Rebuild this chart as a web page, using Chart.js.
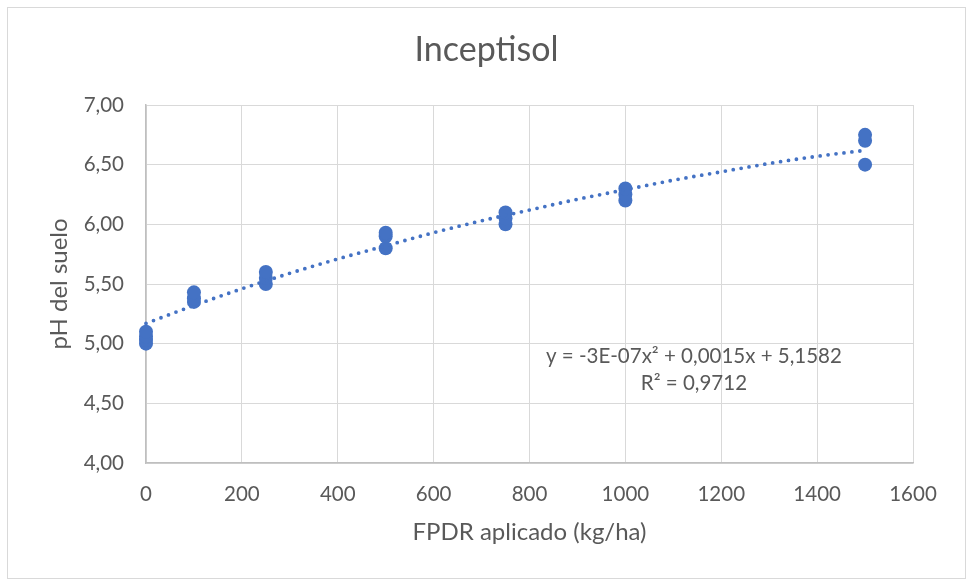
<!DOCTYPE html>
<html>
  <head>
    <title>Inceptisol - pH</title>
    <script src="https://cdn.jsdelivr.net/npm/chart.js@4.4.1/dist/chart.umd.min.js"></script>
    <style>
      body { margin: 0; background: #fff; }
      .wrap { position: relative; width: 967px; height: 582px; }
      .frame {
        position: absolute; left: 7px; top: 7px; width: 957px; height: 570px;
        border: 1px solid #d9d9d9; pointer-events: none;
      }
    </style>
  </head>
  <body>
    <div class="wrap">
      <canvas id="canvas" width="967" height="582"></canvas>
      <div class="frame"></div>
    </div>
    <script>
      // measured points (dose kg/ha -> soil pH)
      var doses = [0, 0, 0, 0, 100, 100, 100, 250, 250, 250, 500, 500, 500, 750, 750, 750, 1000, 1000, 1000, 1500, 1500, 1500];
      var phValues = [5.00, 5.03, 5.06, 5.10, 5.35, 5.38, 5.43, 5.50, 5.55, 5.60, 5.80, 5.90, 5.93, 6.00, 6.05, 6.10, 6.20, 6.25, 6.30, 6.50, 6.70, 6.75];

      // polynomial trendline
      var trendX = [0, 100, 200, 300, 400, 500, 600, 700, 800, 900, 1000, 1100, 1200, 1300, 1400, 1500];
      var trendY = [5.17, 5.32, 5.46, 5.59, 5.71, 5.82, 5.93, 6.03, 6.12, 6.21, 6.29, 6.37, 6.44, 6.51, 6.57, 6.62];

      var chartTitle = 'Inceptisol';
      var equationText = ['y = -3E-07x\u00B2 + 0,0015x + 5,1582', 'R\u00B2 = 0,9712'];

      var blue = '#4472C4';
      var textGray = '#595959';
      var font = 'Lato';

      // title is centred on the whole frame, not on the plot box
      var titlePlugin = {
        id: 'frameTitle',
        afterDraw: function(chart) {
          var ctx = chart.ctx;
          ctx.save();
          ctx.font = '34px ' + font;
          ctx.fillStyle = textGray;
          ctx.textAlign = 'center';
          ctx.textBaseline = 'middle';
          ctx.fillText(chartTitle, chart.width / 2 + 3, 50);
          ctx.restore();
        }
      };

      var eqPlugin = {
        id: 'equation',
        afterDatasetsDraw: function(chart) {
          var ctx = chart.ctx;
          var xs = chart.scales.x, ys = chart.scales.y;
          ctx.save();
          ctx.font = '20.5px ' + font;
          ctx.fillStyle = textGray;
          ctx.textAlign = 'center';
          ctx.textBaseline = 'middle';
          var cx = xs.getPixelForValue(1143);
          ctx.fillText(equationText[0], cx, ys.getPixelForValue(4.895));
          ctx.fillText(equationText[1], cx, ys.getPixelForValue(4.67));
          ctx.restore();
        }
      };

      var config = {
        type: 'scatter',
        data: {
          datasets: [{
            label: 'pH',
            data: doses.map(function(d, i) { return { x: d, y: phValues[i] }; }),
            backgroundColor: blue,
            borderColor: blue,
            pointRadius: 7,
            pointBorderWidth: 0,
            clip: false,
            order: 2
          }, {
            label: 'Polin\u00F3mica',
            type: 'line',
            data: trendX.map(function(d, i) { return { x: d, y: trendY[i] }; }),
            borderColor: blue,
            borderWidth: 3.8,
            borderDash: [0, 8],
            borderCapStyle: 'round',
            pointRadius: 0,
            cubicInterpolationMode: 'monotone',
            fill: false,
            clip: false,
            order: 1
          }]
        },
        options: {
          responsive: false,
          animation: false,
          layout: { padding: { left: 0, right: 54, top: 105, bottom: 0 } },
          plugins: {
            legend: { display: false },
            tooltip: { enabled: false },
            title: { display: false }
          },
          scales: {
            x: {
              type: 'linear',
              min: 0,
              max: 1600,
              ticks: {
                stepSize: 200,
                color: textGray,
                padding: 19,
                font: { family: font, size: 20.5 },
                callback: function(v) { return String(v); }
              },
              grid: { color: '#d9d9d9', drawTicks: false },
              border: { color: '#bfbfbf', width: 1.5 },
              title: {
                display: true,
                text: 'FPDR aplicado (kg/ha)',
                color: textGray,
                font: { family: font, size: 24 },
                padding: { bottom: 35 }
              },
              afterFit: function(s) { s.height = 119; }
            },
            y: {
              min: 4,
              max: 7,
              ticks: {
                stepSize: 0.5,
                color: textGray,
                padding: 22,
                font: { family: font, size: 20.5 },
                callback: function(v) { return v.toFixed(2).replace('.', ','); }
              },
              grid: { color: '#d9d9d9', drawTicks: false },
              border: { color: '#bfbfbf', width: 1.5 },
              title: {
                display: true,
                text: 'pH del suelo',
                color: textGray,
                font: { family: font, size: 24 },
                padding: { top: 45 }
              },
              afterFit: function(s) { s.width = 146; }
            }
          }
        },
        plugins: [eqPlugin, titlePlugin]
      };

      var ctx = document.getElementById('canvas').getContext('2d');
      window.phChart = new Chart(ctx, config);
    </script>
  </body>
</html>
